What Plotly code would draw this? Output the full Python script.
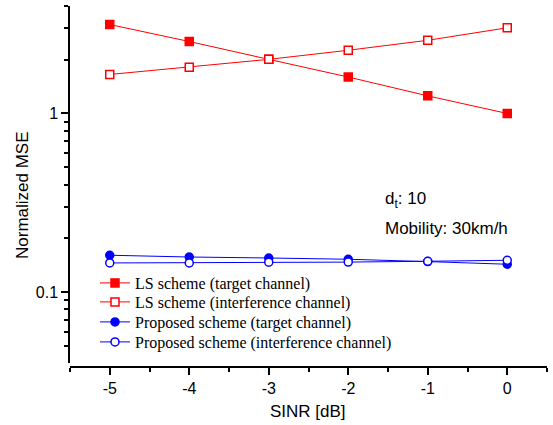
import plotly.graph_objects as go
import math

sinr = [-5, -4, -3, -2, -1, 0]
ls_target = [3.15, 2.53, 2.01, 1.60, 1.255, 1.0]
ls_interf = [1.654, 1.818, 2.01, 2.26, 2.57, 3.02]
prop_target = [0.1606, 0.157, 0.155, 0.1525, 0.148, 0.143]
prop_interf = [0.1454, 0.1455, 0.1468, 0.1470, 0.1486, 0.1505]

names = ["LS scheme (target channel)", "LS scheme (interference channel)",
         "Proposed scheme (target channel)", "Proposed scheme (interference channel)"]

RED = "#FF0000"
BLUE = "#0000FF"

W, H = 553, 425
L, R, T, B = 70, 6, 6, 58
pw = W - L - R
ph = H - T - B

def px_to_paper(xp, yp):
    return (xp - L) / pw, (H - B - yp) / ph

fig = go.Figure()
series = [
    (ls_target, names[0], RED, "square", RED, "legend"),
    (ls_interf, names[1], RED, "square", "white", "legend2"),
    (prop_target, names[2], BLUE, "circle", BLUE, "legend3"),
    (prop_interf, names[3], BLUE, "circle", "white", "legend4"),
]
for vals, nm, col, sym, fill, lg in series:
    fig.add_trace(go.Scatter(
        x=sinr, y=vals, name=nm, mode="lines+markers", legend=lg,
        line=dict(color=col, width=1),
        marker=dict(symbol=sym, size=8, color=fill, line=dict(color=col, width=1.5)),
    ))

tickfont = dict(family="Liberation Sans, Arial", size=16, color="black")
legfont = dict(family="Liberation Serif, Times New Roman", size=16, color="black")

row_centers = [284, 303, 323, 343]
legends = {}
for i, yc in enumerate(row_centers):
    key = "legend" if i == 0 else f"legend{i+1}"
    legends[key] = dict(
        x=px_to_paper(95, 0)[0], y=px_to_paper(0, yc - 18)[1],
        xanchor="left", yanchor="top",
        bgcolor="rgba(0,0,0,0)", borderwidth=0, font=legfont, itemwidth=30,
    )

fig.update_layout(
    width=W, height=H,
    margin=dict(l=L, r=R, t=T, b=B),
    plot_bgcolor="white", paper_bgcolor="white",
    showlegend=True,
    **legends,
    xaxis=dict(
        range=[-5.5, 0.5], tickvals=[-5, -4, -3, -2, -1, 0],
        ticktext=["-5", "-4", "-3", "-2", "-1", "0"],
        ticks="outside", ticklen=7, tickwidth=1.5, tickcolor="black",
        showline=True, linecolor="black", linewidth=1.5, showgrid=False, zeroline=False,
        tickfont=tickfont, anchor="free", position=0,
        minor=dict(tickvals=[-5.5, -4.5, -3.5, -2.5, -1.5, -0.5, 0.5], ticks="outside",
                   ticklen=4, tickwidth=1.5, tickcolor="black", showgrid=False),
    ),
    yaxis=dict(
        type="log", range=[math.log10(0.04), math.log10(4)],
        domain=[4 / ph, 1],
        tickvals=[0.1, 1], ticktext=["0.1", "1"],
        ticks="outside", ticklen=7, tickwidth=1.5, tickcolor="black",
        showline=True, linecolor="black", linewidth=1.5, showgrid=False, zeroline=False,
        tickfont=tickfont,
        minor=dict(tickvals=[0.05, 0.06, 0.07, 0.08, 0.09, 0.2, 0.3, 0.4, 0.5, 0.6, 0.7, 0.8, 0.9, 2, 3, 4],
                   ticks="outside", ticklen=4, tickwidth=1.5, tickcolor="black", showgrid=False),
    ),
)

annfont = dict(family="Liberation Sans, Arial", size=17, color="black")
ax, ay = px_to_paper(383, 200)
fig.add_annotation(x=ax, y=ay, xref="paper", yref="paper", text="d<sub>t</sub>: 10",
                   showarrow=False, xanchor="left", yanchor="middle", font=annfont)
ax, ay = px_to_paper(383, 228)
fig.add_annotation(x=ax, y=ay, xref="paper", yref="paper", text="Mobility: 30km/h",
                   showarrow=False, xanchor="left", yanchor="middle", font=annfont)
ax, ay = px_to_paper(22, 195)
fig.add_annotation(x=ax, y=ay, xref="paper", yref="paper", text="Normalized MSE",
                   showarrow=False, textangle=-90, xanchor="center", yanchor="middle", font=annfont)
ax, ay = px_to_paper(308, 411)
fig.add_annotation(x=ax, y=ay, xref="paper", yref="paper", text="SINR [dB]",
                   showarrow=False, xanchor="center", yanchor="middle", font=annfont)

fig.write_html("out.html")
